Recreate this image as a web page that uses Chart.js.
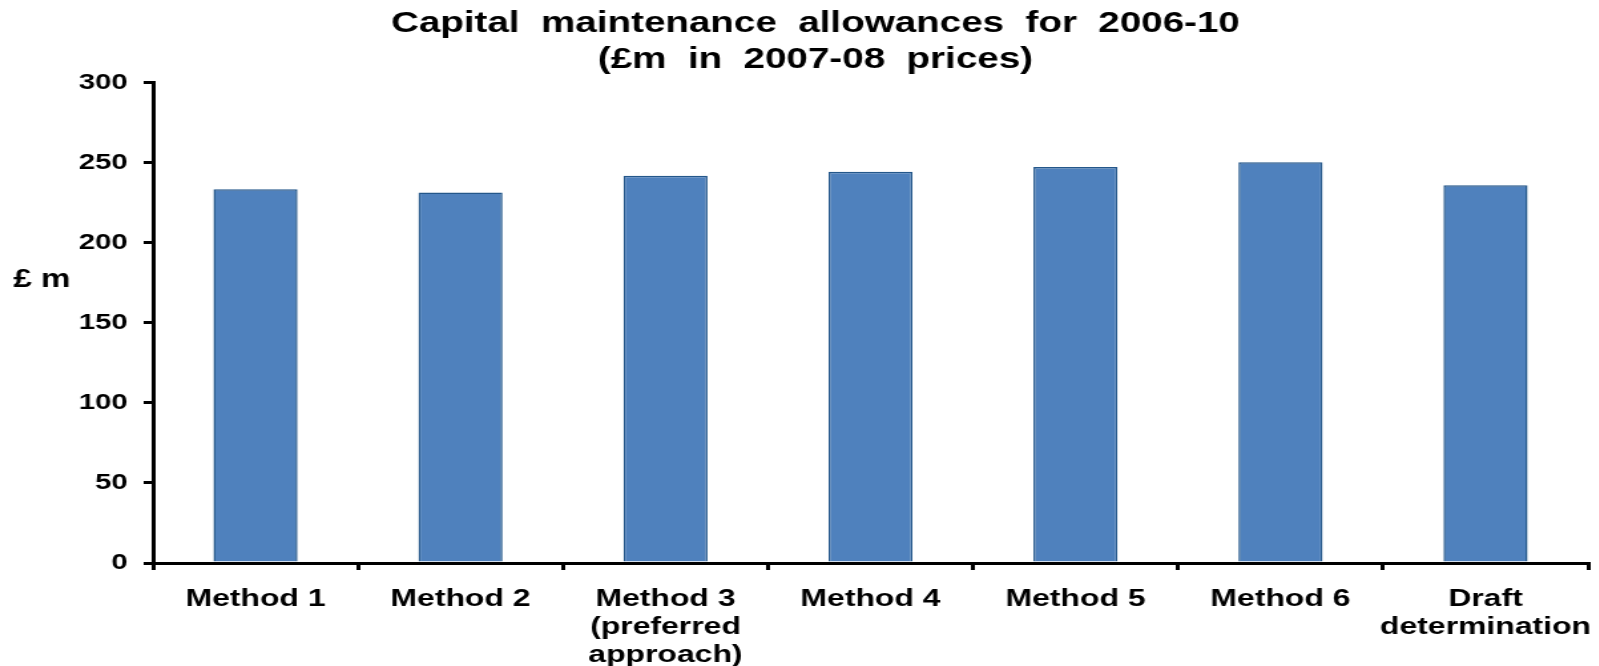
<!DOCTYPE html>
<html>
<head>
<meta charset="utf-8">
<title>Capital maintenance allowances</title>
<script src="https://cdn.jsdelivr.net/npm/chart.js@4.4.1/dist/chart.umd.min.js"></script>
<style>
  html, body { margin: 0; background: #fff; overflow: hidden; }
  /* the original picture is stretched sideways, so draw narrow and widen it */
  #wrap {
    width: 1202px;
    height: 666px;
    position: relative;
    transform: scaleX(1.33);
    transform-origin: 0 0;
  }
</style>
</head>
<body>
<div id="wrap"><canvas id="chart"></canvas></div>
<script>
// Chart data
const categories = [
  'Method 1',
  'Method 2',
  ['Method 3', '(preferred', 'approach)'],
  'Method 4',
  'Method 5',
  'Method 6',
  ['Draft', 'determination'],
];
const allowances = [233.5, 231.5, 242, 244.5, 247.5, 250.5, 236];
const yTicks = [0, 50, 100, 150, 200, 250, 300];
// leading spaces nudge the centred title a little to the right, as in the original
const titleLines = ['    Capital  maintenance  allowances  for  2006-10', '    (£m  in  2007-08  prices)'];
const yAxisLabel = '£ m';

const FONT = "'Liberation Sans', Arial, sans-serif";

// horizontal y axis label, left of the ticks
const yLabelPlugin = {
  id: 'yLabel',
  afterDraw(chart) {
    const ctx = chart.ctx;
    const y = chart.scales.y;
    ctx.save();
    ctx.font = 'bold 25px ' + FONT;
    ctx.fillStyle = '#000';
    ctx.textAlign = 'left';
    ctx.textBaseline = 'middle';
    ctx.fillText(yAxisLabel, 10, y.getPixelForValue(177));
    ctx.restore();
  },
};

new Chart(document.getElementById('chart'), {
  type: 'bar',
  data: {
    labels: categories,
    datasets: [
      {
        data: allowances,
        backgroundColor: '#4F81BD',
        borderColor: '#24578A',
        borderWidth: 1.5,
        borderSkipped: 'bottom',
        barPercentage: 0.82,
        categoryPercentage: 0.5,
      },
    ],
  },
  options: {
    responsive: true,
    maintainAspectRatio: false,
    animation: false,
    layout: { padding: { left: 0, right: 8, top: 6, bottom: 0 } },
    plugins: {
      legend: { display: false },
      tooltip: { enabled: false },
      title: {
        display: true,
        text: titleLines,
        color: '#000',
        font: { family: FONT, size: 29, weight: 'bold', lineHeight: 1.24 },
        padding: { top: 0, bottom: 5 },
      },
    },
    scales: {
      y: {
        min: 0,
        max: 300,
        afterBuildTicks: (s) => { s.ticks = yTicks.map((v) => ({ value: v })); },
        afterFit: (s) => { s.width = 115; },
        border: { display: true, color: '#000', width: 3 },
        grid: { drawOnChartArea: false, drawTicks: true, tickLength: 7, color: '#000', lineWidth: 3 },
        ticks: {
          color: '#000',
          padding: 12,
          font: { family: FONT, size: 22, weight: 'bold' },
        },
      },
      x: {
        afterFit: (s) => {
          s.height = 103;
          s.paddingLeft = 0;
          s.paddingRight = 0;
        },
        border: { display: true, color: '#000', width: 3 },
        grid: { offset: true, drawOnChartArea: false, drawTicks: true, tickLength: 7, color: '#000', lineWidth: 3 },
        ticks: {
          color: '#000',
          padding: 15,
          maxRotation: 0,
          autoSkip: false,
          font: { family: FONT, size: 24, weight: 'bold', lineHeight: 1.18 },
        },
      },
    },
  },
  plugins: [yLabelPlugin],
});
</script>
</body>
</html>
